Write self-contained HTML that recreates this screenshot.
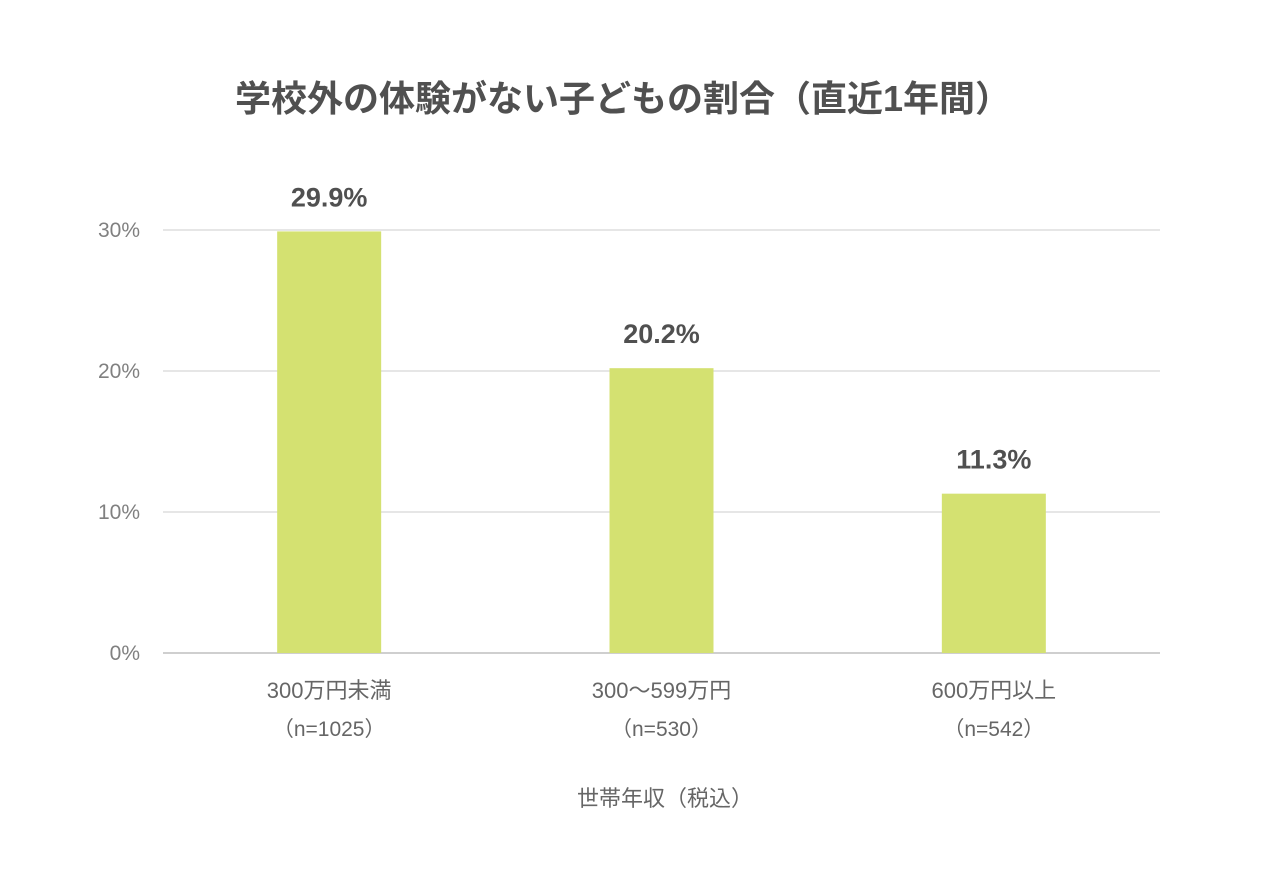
<!DOCTYPE html>
<html><head><meta charset="utf-8">
<style>
body{margin:0;background:#fff;width:1280px;height:870px;overflow:hidden;font-family:"Liberation Sans","Noto Sans CJK JP",sans-serif;}
</style></head>
<body>
<svg id="chart" width="1280" height="870" xmlns="http://www.w3.org/2000/svg" style="font-family:'Liberation Sans','Noto Sans CJK JP',sans-serif">
<text x="623" y="111" text-anchor="middle" font-size="36" font-weight="bold" fill="#505050">学校外の体験がない子どもの割合（直近1年間）</text>
<g id="grid"></g>
<g id="bars"></g>
<text x="665" y="806" text-anchor="middle" font-size="22" fill="#666">世帯年収（税込）</text>
</svg>
<script>
const categories = ["300万円未満","300～599万円","600万円以上"];
const sampleSizes = ["（n=1025）","（n=530）","（n=542）"];
const values = [29.9, 20.2, 11.3];
const valueLabels = ["29.9%","20.2%","11.3%"];
const ticks = [0, 10, 20, 30];
const tickLabels = ["0%","10%","20%","30%"];

const NS="http://www.w3.org/2000/svg";
const x0=163, x1=1160, yBase=653, yTop=230, yMax=30;
const y = v => yBase - (v/yMax)*(yBase-yTop);
const band = (x1-x0)/categories.length;
const xc = i => x0 + band*(i+0.5);
const bw = 104;
function mk(tag, attrs, parent, text){
  const e=document.createElementNS(NS,tag);
  for(const k in attrs) e.setAttribute(k,attrs[k]);
  if(text!==undefined) e.textContent=text;
  parent.appendChild(e); return e;
}
const grid=document.getElementById('grid'), bars=document.getElementById('bars');
ticks.forEach((t,i)=>{
  const l=mk('line',{x1:x0,x2:x1,y1:y(t),y2:y(t),stroke:t===0?'#cfcfcf':'#dedede','stroke-width':t===0?2:1.5},grid);
  
  
  const tx=mk('text',{x:140,y:y(t)+7,'text-anchor':'end','font-size':21,fill:'#808080'},grid,tickLabels[i]);
  
  
});
values.forEach((v,i)=>{
  const r=mk('rect',{x:xc(i)-bw/2,y:y(v),width:bw,height:yBase-y(v),fill:'#d4e171'},bars);
  
  
  const vl=mk('text',{x:xc(i),y:y(v)-25,'text-anchor':'middle','font-size':27,'font-weight':'bold',fill:'#505050'},bars,valueLabels[i]);
  
  
  const c=mk('text',{x:xc(i),y:698,'text-anchor':'middle','font-size':22,fill:'#666'},bars,categories[i]);
  
  
  const n=mk('text',{x:xc(i),y:736,'text-anchor':'middle','font-size':21,fill:'#666'},bars,sampleSizes[i]);
  
  
});
</script>
</body></html>
